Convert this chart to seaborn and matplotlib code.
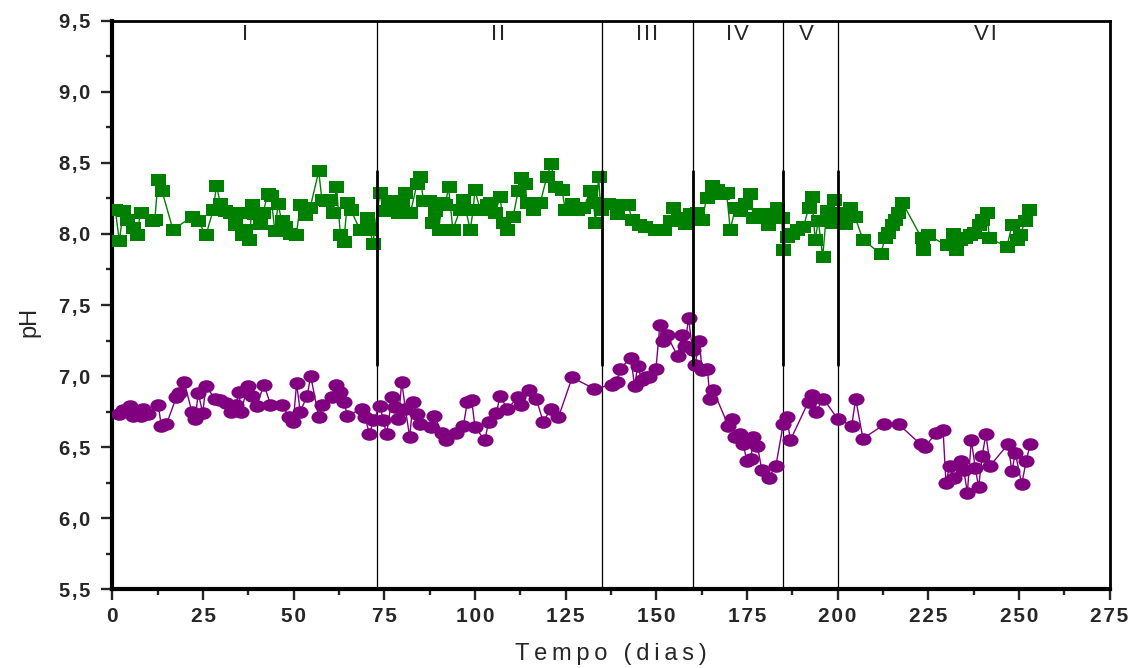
import numpy as np
import pandas as pd
import matplotlib
matplotlib.use("Agg")
import matplotlib.pyplot as plt
from matplotlib.path import Path
from matplotlib.ticker import MultipleLocator, FuncFormatter
import seaborn as sns

# ---------------- data ----------------
green_t = [0.8, 1.9, 3.0, 3.9, 5.8, 6.7, 7.8, 10.8, 11.7, 12.6, 13.7, 16.7, 21.9, 23.7, 25.8, 27.8, 28.7,
           29.8, 31.0, 32.3, 33.7, 34.9, 35.8, 36.7, 37.8, 38.5, 39.1, 40.7, 41.6, 42.8, 43.7, 44.8, 45.7,
           46.7, 47.7, 49.0, 50.7, 51.8, 53.1, 54.5, 56.9, 57.8, 59.0, 60.0, 60.9, 61.8, 62.9, 63.8, 64.8,
           65.7, 68.3, 70.1, 71.1, 71.8, 73.8, 74.7, 76.0, 77.5, 78.9, 79.8, 80.8, 82.2, 84.0, 84.9, 85.8,
           87.2, 88.1, 89.0, 90.0, 90.9, 91.8, 92.7, 93.9, 95.9, 96.8, 98.7, 99.5, 100.0, 101.4, 103.2,
           104.1, 105.6, 106.9, 107.8, 108.7, 110.5, 111.9, 112.8, 113.9, 114.3, 116.1, 118.0, 119.8,
           121.0, 122.2, 124.0, 124.9, 126.7, 128.1, 129.9, 131.8, 132.7, 133.2, 134.1, 134.7, 136.8,
           139.1, 140.4, 142.3, 143.3, 145.1, 146.9, 149.6, 152.0, 153.8, 154.7, 156.1, 157.9, 159.3,
           161.2, 162.6, 163.9, 165.3, 166.7, 168.0, 169.4, 170.4, 171.8, 173.1, 174.5, 175.9, 176.8,
           178.6, 180.9, 182.3, 183.2, 184.6, 185.0, 186.0, 187.3, 188.8, 190.6, 192.0, 192.9, 193.8,
           194.7, 195.9, 197.0, 198.5, 198.9, 201.2, 202.1, 203.5, 204.8, 207.0, 211.9, 213.1, 214.0,
           214.9, 215.9, 216.8, 217.9, 223.2, 223.7, 225.0, 230.1, 231.9, 232.8, 233.8, 235.1, 236.5,
           237.5, 238.9, 239.8, 241.1, 241.9, 246.7, 248.1, 249.4, 250.4, 251.7, 252.9]
green_ph = [8.17, 7.95, 8.16, 8.10, 8.04, 7.99, 8.15, 8.09, 8.10, 8.38, 8.30, 8.03, 8.12, 8.09, 7.99, 8.17, 8.34,
            8.21, 8.16, 8.15, 8.06, 8.15, 7.99, 8.03, 7.96, 8.20, 8.14, 8.07, 8.15, 8.28, 8.27, 8.02, 8.21,
            8.09, 8.05, 8.00, 7.99, 8.20, 8.13, 8.18, 8.44, 8.24, 8.23, 8.24, 8.15, 8.33, 7.99, 7.94, 8.22,
            8.17, 8.03, 8.11, 8.03, 7.93, 8.29, 8.16, 8.22, 8.23, 8.15, 8.21, 8.29, 8.15, 8.35, 8.40, 8.23,
            8.23, 8.08, 8.16, 8.03, 8.22, 8.20, 8.33, 8.03, 8.17, 8.24, 8.03, 8.17, 8.31, 8.17, 8.20,
            8.22, 8.15, 8.26, 8.08, 8.03, 8.12, 8.30, 8.39, 8.35, 8.22, 8.17, 8.22, 8.40,
            8.49, 8.33, 8.31, 8.17, 8.21, 8.17, 8.18, 8.30, 8.22, 8.08, 8.40, 8.17, 8.21,
            8.14, 8.20, 8.20, 8.10, 8.06, 8.05, 8.03, 8.03, 8.09, 8.18, 8.11, 8.07, 8.14,
            8.15, 8.10, 8.25, 8.34, 8.31, 8.28, 8.29, 8.03, 8.18, 8.16, 8.21, 8.28, 8.11,
            8.14, 8.06, 8.14, 8.18, 8.11, 7.89, 7.98, 8.00, 8.03, 8.05, 8.18, 8.26, 7.96,
            8.09, 7.84, 8.16, 8.08, 8.24, 8.15, 8.07, 8.18, 8.12, 7.96, 7.86, 7.97, 8.01,
            8.06, 8.10, 8.15, 8.22, 7.97, 7.89, 7.99, 7.92, 8.00, 7.89, 7.96, 7.97, 7.99,
            8.01, 8.06, 8.10, 8.15, 7.97, 7.91, 8.06, 7.96, 7.99, 8.09, 8.17]

purple_t = [1.7, 3.0, 4.9, 5.7, 8.0, 8.5, 9.8, 12.6, 13.5, 14.9, 17.6, 18.5, 19.8, 21.9, 22.8, 23.7, 24.9,
            25.8, 28.3, 29.6, 31.4, 32.8, 34.1, 34.9, 35.5, 37.3, 38.5, 39.8, 41.8, 43.6, 46.7, 48.8, 49.9,
            50.8, 51.8, 53.7, 54.7, 56.9, 57.8, 60.5, 61.8, 62.8, 63.9, 64.8, 68.8, 69.7, 70.9, 72.0, 73.8,
            74.7, 75.6, 77.1, 78.0, 78.9, 79.8, 80.8, 82.0, 82.9, 84.0, 84.9, 87.9, 88.8, 90.9, 91.9, 94.8,
            96.8, 97.9, 99.1, 100.0, 102.7, 103.8, 105.9, 106.9, 108.9, 111.9, 112.8, 114.9, 116.9, 118.8,
            121.0, 123.0, 126.8, 132.9, 137.8, 139.1, 140.0, 143.0, 144.0, 144.9, 146.0, 147.2, 148.1,
            149.9, 151.0, 151.8, 152.9, 155.9, 157.0, 157.9, 158.9, 160.0, 160.7, 161.9, 162.6, 164.1,
            164.8, 165.7, 169.9, 170.9, 171.8, 173.1, 174.0, 175.0, 176.1, 176.8, 177.9, 179.1, 181.0,
            183.0, 185.0, 186.0, 187.0, 192.0, 192.9, 194.0, 196.1, 200.0, 203.9, 205.0, 207.0, 212.9,
            216.9, 222.9, 224.1, 227.1, 229.1, 229.9, 230.9, 232.1, 234.0, 234.8, 235.8, 236.9, 238.0,
            238.9, 239.9, 240.9, 242.1, 247.0, 248.1, 249.0, 250.8, 252.0, 253.1]
purple_ph = [6.73, 6.76, 6.79, 6.72, 6.72, 6.77, 6.73, 6.80, 6.65, 6.66, 6.85, 6.88, 6.96, 6.75, 6.70, 6.88, 6.74,
             6.93, 6.84, 6.83, 6.81, 6.75, 6.80, 6.89, 6.75, 6.93, 6.86, 6.79, 6.94, 6.80, 6.80, 6.71, 6.68,
             6.95, 6.75, 6.86, 7.00, 6.71, 6.80, 6.85, 6.94, 6.89, 6.82, 6.72, 6.77, 6.71, 6.59, 6.69, 6.79,
             6.69, 6.59, 6.85, 6.78, 6.70, 6.96, 6.77, 6.57, 6.82, 6.73, 6.66, 6.64, 6.72, 6.60, 6.55, 6.60,
             6.65, 6.82, 6.83, 6.64, 6.55, 6.68, 6.74, 6.86, 6.77, 6.85, 6.80, 6.90, 6.84, 6.68,
             6.77, 6.71, 6.99, 6.91, 6.94, 6.96, 7.05, 7.13, 6.93, 7.07, 6.97, 6.99, 6.99,
             7.05, 7.36, 7.25, 7.29, 7.14, 7.29, 7.21, 7.41, 7.18, 7.08, 7.25, 7.04, 7.05,
             6.84, 6.90, 6.65, 6.70, 6.57, 6.59, 6.52, 6.40, 6.42, 6.57, 6.51, 6.34, 6.28,
             6.37, 6.66, 6.71, 6.55, 6.82, 6.87, 6.75, 6.84, 6.70, 6.65, 6.84, 6.56, 6.66,
             6.66, 6.52, 6.50, 6.60, 6.62, 6.25, 6.37, 6.28, 6.40, 6.34, 6.18, 6.55, 6.35,
             6.22, 6.44, 6.59, 6.37, 6.52, 6.33, 6.46, 6.24, 6.40, 6.52]

phase_bounds = [73, 135, 160, 185, 200]
phase_labels = ["I", "II", "III", "IV", "V", "VI"]
phase_label_x = [36.6, 106.4, 147.5, 172.3, 191.3, 240.7]

# ---------------- style ----------------
sns.set_style("white")
plt.rcParams['font.family'] = ['Liberation Sans', 'DejaVu Sans']

HS = "\u200a"   # hair space (letter spacing)
TS = "\u2009"   # thin space

fig = plt.figure(figsize=(11.37, 6.68), dpi=100)
ax = fig.add_axes([112.4 / 1137, 1 - 589.3 / 668, 997.1 / 1137, 568.6 / 668])

rect = Path([(-1.2, -1), (1.2, -1), (1.2, 1), (-1.2, 1), (-1.2, -1)],
            [Path.MOVETO, Path.LINETO, Path.LINETO, Path.LINETO, Path.CLOSEPOLY])
circ = Path.unit_circle()
ell = Path(circ.vertices * np.array([1.28, 1.0]), circ.codes)

dfg = pd.DataFrame({"t": green_t, "ph": green_ph})
dfp = pd.DataFrame({"t": purple_t, "ph": purple_ph})

sns.lineplot(data=dfg, x="t", y="ph", ax=ax, color="#008000", lw=1.0, marker=rect,
             markersize=10.8, markeredgewidth=0, estimator=None, sort=False, zorder=3)
sns.lineplot(data=dfp, x="t", y="ph", ax=ax, color="#800080", lw=1.0, marker=ell,
             markersize=11.6, markeredgewidth=0, estimator=None, sort=False, zorder=3)

for b in phase_bounds:
    ax.axvline(b, color="black", lw=0.9, zorder=2)
    ax.plot([b, b], [7.08, 8.44], color="black", lw=2.0, zorder=4)

for lab, xx in zip(phase_labels, phase_label_x):
    ax.text(xx, 9.40, HS.join(lab), ha="center", va="center", fontsize=16)

ax.set_xlim(0, 275)
ax.set_ylim(5.5, 9.5)
ax.xaxis.set_major_locator(MultipleLocator(25))
ax.xaxis.set_minor_locator(MultipleLocator(12.5))
ax.yaxis.set_major_locator(MultipleLocator(0.5))
ax.yaxis.set_minor_locator(MultipleLocator(0.25))
ax.yaxis.set_major_formatter(FuncFormatter(lambda v, p: HS.join(f"{v:.1f}".replace(".", ","))))
ax.xaxis.set_major_formatter(FuncFormatter(lambda v, p: HS.join(f"{v:.0f}")))

ax.tick_params(axis="both", which="major", direction="out", length=8, width=1.7,
               bottom=True, left=True, top=False, right=False)
ax.tick_params(axis="both", which="minor", direction="out", length=4.3, width=1.7,
               bottom=True, left=True, top=False, right=False)
ax.tick_params(axis="y", which="major", labelsize=14.5, pad=8)
ax.tick_params(axis="x", which="major", labelsize=15, pad=5)
for lbl in ax.get_yticklabels() + ax.get_xticklabels():
    lbl.set_fontweight("bold")

for s in ["left", "bottom"]:
    ax.spines[s].set_linewidth(3)
    ax.spines[s].set_color("black")
for s in ["top", "right"]:
    ax.spines[s].set_linewidth(2)
    ax.spines[s].set_color("black")
    ax.spines[s].set_visible(True)

ax.set_xlabel(TS.join("Tempo (dias)"), fontsize=17)
ax.set_ylabel("pH", fontsize=17)
ax.xaxis.set_label_coords(0.5, -0.094)
ax.yaxis.set_label_coords(-0.0726, 0.47)
ax.xaxis.label.set_va("top")

fig.savefig("out.png", dpi=100)
